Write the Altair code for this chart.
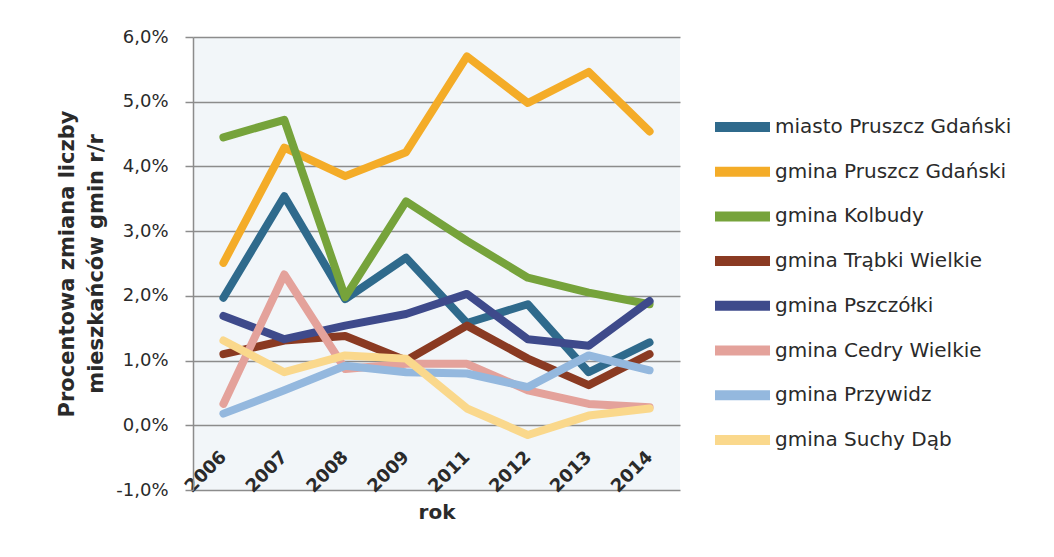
import altair as alt
import pandas as pd

years = ["2006", "2007", "2008", "2009", "2011", "2012", "2013", "2014"]

series_names = [
    "miasto Pruszcz Gdański",
    "gmina Pruszcz Gdański",
    "gmina Kolbudy",
    "gmina Trąbki Wielkie",
    "gmina Pszczółki",
    "gmina Cedry Wielkie",
    "gmina Przywidz",
    "gmina Suchy Dąb",
]

miasto_pruszcz = [1.97, 3.54, 1.95, 2.59, 1.58, 1.87, 0.82, 1.28]
gmina_pruszcz = [2.51, 4.29, 3.85, 4.22, 5.70, 4.98, 5.46, 4.54]
kolbudy = [4.45, 4.72, 1.98, 3.46, 2.85, 2.28, 2.05, 1.87]
trabki = [1.10, 1.31, 1.38, 1.00, 1.54, 1.03, 0.62, 1.10]
pszczolki = [1.69, 1.33, 1.54, 1.72, 2.03, 1.33, 1.23, 1.92]
cedry = [0.33, 2.33, 0.87, 0.95, 0.95, 0.54, 0.33, 0.28]
przywidz = [0.18, 0.54, 0.92, 0.82, 0.80, 0.59, 1.08, 0.85]
suchy_dab = [1.31, 0.82, 1.08, 1.03, 0.26, -0.15, 0.15, 0.26]

colors = ["#2F6A8C", "#F4AC28", "#76A33B", "#8A3A22", "#3E4A8B",
          "#E4A29B", "#94B8DE", "#FAD88C"]

all_series = [miasto_pruszcz, gmina_pruszcz, kolbudy, trabki, pszczolki,
              cedry, przywidz, suchy_dab]

rows = []
for idx, (name, vals) in enumerate(zip(series_names, all_series)):
    for y, v in zip(years, vals):
        rows.append({"rok": y, "seria": name, "wartosc": v, "order": idx})
df = pd.DataFrame(rows)

FONT = "DejaVu Sans"

chart = alt.Chart(df).mark_line(
    strokeWidth=8, strokeCap="round", strokeJoin="round"
).encode(
    x=alt.X(
        "rok:N",
        sort=years,
        scale=alt.Scale(type="point", padding=0.5),
        axis=alt.Axis(
            title="rok",
            offset=-65,
            domain=False,
            ticks=False,
            grid=False,
            labelAngle=-45,
            labelAlign="right",
            labelBaseline="middle",
            labelPadding=29,
            labelFont=FONT,
            labelFontSize=18,
            labelFontWeight="bold",
            labelColor="#2a2a2a",
            titleFont=FONT,
            titleFontSize=20,
            titleFontWeight="bold",
            titleColor="#2a2a2a",
            titlePadding=7,
        ),
    ),
    y=alt.Y(
        "wartosc:Q",
        scale=alt.Scale(domain=[-1, 6], nice=False, zero=False),
        axis=alt.Axis(
            title=["Procentowa zmiana liczby", "mieszkańców gmin r/r"],
            values=[-1, 0, 1, 2, 3, 4, 5, 6],
            labelExpr="replace(replace(format(datum.value, '.1f'), '.', ','), '\u2212', '-') + '%'",
            domain=True,
            domainColor="#8C8C8C",
            domainWidth=1.5,
            ticks=True,
            tickSize=8,
            tickColor="#8C8C8C",
            tickWidth=1.5,
            grid=True,
            gridColor="#8C8C8C",
            gridWidth=1.5,
            labelPadding=17,
            labelFont=FONT,
            labelFontSize=18,
            labelColor="#2a2a2a",
            titleFont=FONT,
            titleFontSize=21,
            titleFontWeight="bold",
            titleColor="#2a2a2a",
            titleLineHeight=29,
            titlePadding=9,
        ),
    ),
    color=alt.Color(
        "seria:N",
        sort=series_names,
        scale=alt.Scale(domain=series_names, range=colors),
        legend=alt.Legend(
            title=None,
            orient="none",
            legendX=517,
            legendY=78,
            symbolType="stroke",
            symbolSize=3025,
            symbolStrokeWidth=10,
            clipHeight=24,
            rowPadding=20.7,
            labelOffset=0,
            labelFont=FONT,
            labelFontSize=20,
            labelColor="#2a2a2a",
            padding=0,
            labelLimit=400,
        ),
    ),
    order=alt.Order("order:Q"),
).properties(
    width=487,
    height=453,
    autosize=alt.AutoSizeParams(type="none"),
    padding={"left": 185, "top": 29, "right": 366, "bottom": 59},
    background="#ffffff",
).configure_view(
    fill="#F2F6F9",
    stroke=None,
)

chart.save("out.html", embed_options={"renderer": "svg", "actions": False})
